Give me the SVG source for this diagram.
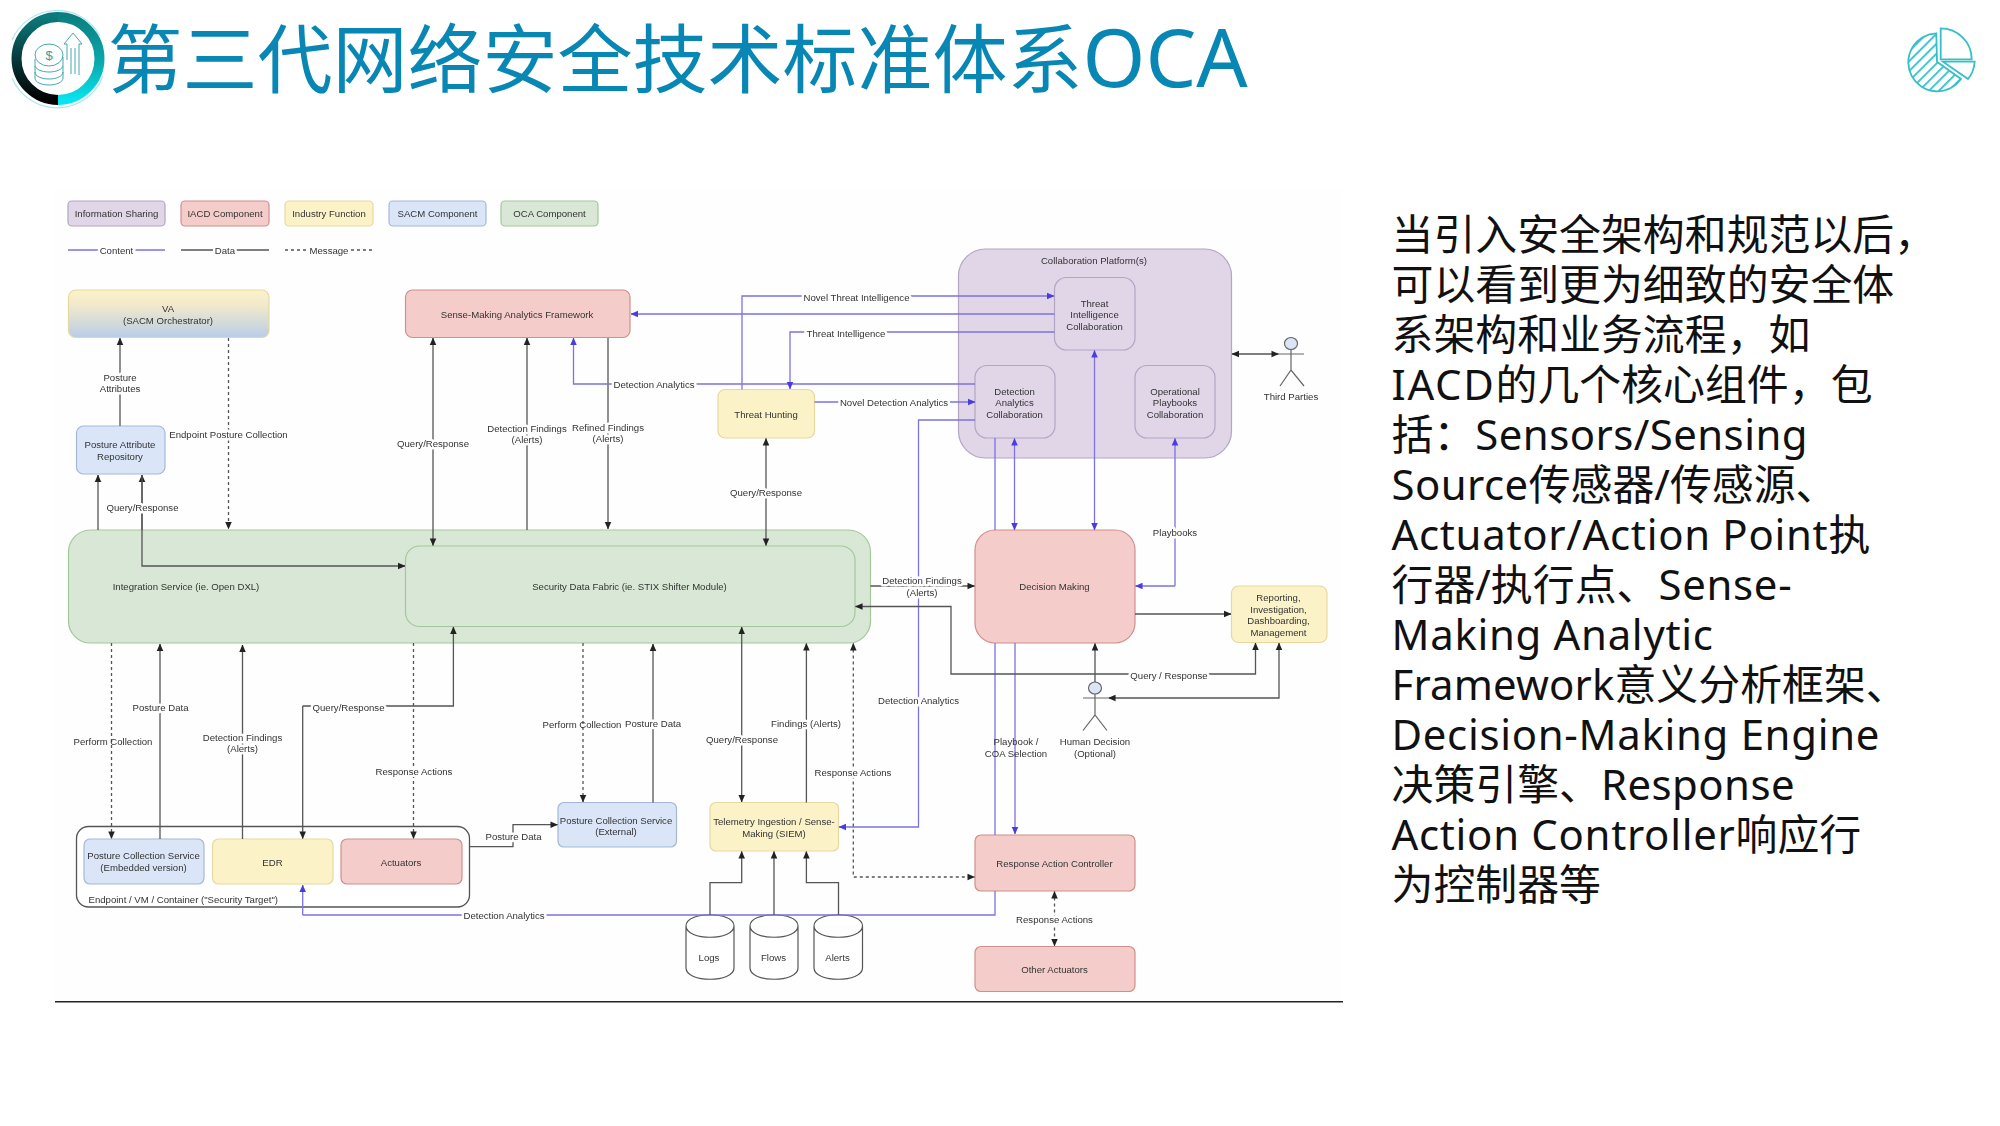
<svg xmlns="http://www.w3.org/2000/svg" width="2000" height="1126" viewBox="0 0 2000 1126">
<style>
text{font-family:"Liberation Sans","Noto Sans CJK SC",sans-serif;fill:#333;font-size:9.6px;text-anchor:middle;dominant-baseline:central}
.bg text,.lb{paint-order:stroke;stroke:#fefefe;stroke-width:5px;stroke-linejoin:round}
.title{font-family:"Noto Sans","Noto Sans CJK SC",sans-serif;font-size:75px;fill:#0887b5;text-anchor:start;dominant-baseline:auto}
.oca{font-size:80.500px}
.body{font-family:"Noto Sans","Noto Sans CJK SC",sans-serif;font-size:41.9px;fill:#111;text-anchor:start;dominant-baseline:auto}
.l7{letter-spacing:.7px}
.l5{letter-spacing:.45px}
.l2{letter-spacing:.15px}
.l17{letter-spacing:1.7px}
.p{fill:#e0d6e8;stroke:#b3a6c4;stroke-width:1.2}
.r{fill:#f4cdca;stroke:#cf8f8c;stroke-width:1.2}
.y{fill:#fcf2c8;stroke:#e6d9a0;stroke-width:1.2}
.b{fill:#dae6f8;stroke:#a5b8d8;stroke-width:1.2}
.g{fill:#d9e8d6;stroke:#a3c79a;stroke-width:1.2}
.c,.d,.m{fill:none;stroke-width:1.3}
.c{stroke:#7d72e2}
.d{stroke:#555}
.m{stroke:#555;stroke-dasharray:3 3}
.ae{marker-end:url(#ak)}
.as{marker-start:url(#ak)}
.be{marker-end:url(#ab)}
.bs{marker-start:url(#ab)}
.act{fill:none;stroke:#666;stroke-width:1.2}
.ic{fill:none;stroke:#2f9ea6;stroke-width:.9}
.pie{fill:none;stroke:#35bfc9;stroke-width:1.8}
</style>
<defs>
<marker id="ak" viewBox="0 0 8 8" refX="7.5" refY="4" markerWidth="7.5" markerHeight="7.5" markerUnits="userSpaceOnUse" orient="auto-start-reverse"><path d="M0 .5L8 4L0 7.5Z" fill="#222"/></marker>
<marker id="ab" viewBox="0 0 8 8" refX="7.5" refY="4" markerWidth="7.5" markerHeight="7.5" markerUnits="userSpaceOnUse" orient="auto-start-reverse"><path d="M0 .5L8 4L0 7.5Z" fill="#4a3ee0"/></marker>
<linearGradient id="va" x1="0" y1="0" x2="0" y2="1"><stop offset="0" stop-color="#fcf2c8"/><stop offset=".35" stop-color="#f0e8cc"/><stop offset="1" stop-color="#b9cde8"/></linearGradient>
<linearGradient id="rl" x1="0" y1="0" x2="0" y2="1"><stop offset="0" stop-color="#0b7a7c"/><stop offset=".5" stop-color="#063a3c"/><stop offset="1" stop-color="#000"/></linearGradient>
<linearGradient id="rr" x1="0" y1="0" x2="0" y2="1"><stop offset="0" stop-color="#0b7f80"/><stop offset=".55" stop-color="#0aa9ad"/><stop offset="1" stop-color="#08e4ee"/></linearGradient>
<pattern id="ht" width="7" height="7" patternUnits="userSpaceOnUse" patternTransform="rotate(-45)"><rect width="7" height="1.8" fill="#35bfc9"/></pattern>
<filter id="soft" filterUnits="userSpaceOnUse" x="0" y="150" width="1400" height="880"><feGaussianBlur stdDeviation=".35"/></filter>
</defs>
<rect width="2000" height="1126" fill="#fff"/>
<rect x="55" y="190" width="1288" height="811" fill="#fefefe"/>

<g id="logo" transform="translate(-1 0)">
<path d="M13 40A49 49 0 0 1 101 36M104 76A49 49 0 0 1 13 78" fill="none" stroke="#a8e8ec" stroke-width="1.2"/>
<path d="M59 100A41.500 41.500 0 0 1 59 17" fill="none" stroke="url(#rl)" stroke-width="10"/>
<path d="M59 17A41.500 41.500 0 0 1 59 100" fill="none" stroke="url(#rr)" stroke-width="10"/>
<ellipse class="ic" cx="50" cy="55" rx="14" ry="11"/>
<path class="ic" d="M36 59v6c0 4 6 7 14 7s14-3 14-7v-8M36 66v6c0 4 6 7 14 7s14-3 14-7v-6M36 72v6c0 4 6 7 14 7s14-3 14-7v-6"/>
<path class="ic" d="M68 60V44h-3L74 33l9 11h-3v31M72 48v26M76 48v26"/>
<text x="50" y="55" style="font-size:13px;fill:#2f9ea6">$</text>
</g>
<text id="title" class="title" x="107.500" y="87">第三代网络安全技术标准体系<tspan class="oca">OCA</tspan></text>
<g id="pie-icon" transform="translate(-1 0)">
<path class="pie" d="M1941.700 28.300A31 31 0 0 1 1972.700 59.300H1941.700Z"/>
<path class="pie" d="M1944 61.700H1975.700A31 31 0 0 1 1969 79Z"/>
<path d="M1937.300 33.300A29 29 0 1 0 1962 79L1938 61.700Z" fill="url(#ht)" stroke="#35bfc9" stroke-width="1.800"/>
</g>

<g id="diagram" filter="url(#soft)">
<g id="legend">
<rect class="p" x="68" y="201" width="97" height="25" rx="4"/><text x="116.500" y="213.500">Information Sharing</text>
<rect class="r" x="181" y="201" width="88" height="25" rx="4"/><text x="225" y="213.500">IACD Component</text>
<rect class="y" x="285" y="201" width="88" height="25" rx="4"/><text x="329" y="213.500">Industry Function</text>
<rect class="b" x="389" y="201" width="97" height="25" rx="4"/><text x="437.500" y="213.500">SACM Component</text>
<rect class="g" x="501" y="201" width="97" height="25" rx="4"/><text x="549.500" y="213.500">OCA Component</text>
<path class="c" d="M68 250H165"/><text class="lb" x="116.500" y="250">Content</text>
<path class="d" d="M181 250H269"/><text class="lb" x="225" y="250">Data</text>
<path class="m" d="M285 250H373"/><text class="lb" x="329" y="250">Message</text>
</g>

<g id="va-node"><rect x="68.500" y="290" width="200.500" height="47.500" rx="7" fill="url(#va)" stroke="#e6d9a0" stroke-width="1.200"/><text x="168" y="308.500">VA</text><text x="168" y="320">(SACM Orchestrator)</text></g>
<g id="sense-making"><rect class="r" x="405.500" y="290" width="224.500" height="47.500" rx="7"/><text x="517" y="314">Sense-Making Analytics Framework</text></g>
<g id="posture-repo"><rect class="b" x="76.500" y="426" width="88.500" height="48" rx="7"/><text x="120" y="444.500">Posture Attribute</text><text x="120" y="456">Repository</text></g>
<g id="collab-platform"><rect class="p" x="958.500" y="249" width="273" height="209" rx="27"/><text x="1094" y="260.500">Collaboration Platform(s)</text></g>
<g id="threat-intel"><rect class="p" x="1054.500" y="277.500" width="80.500" height="72.500" rx="12"/><text x="1094.500" y="303">Threat</text><text x="1094.500" y="314.500">Intelligence</text><text x="1094.500" y="326">Collaboration</text></g>
<g id="detection-collab"><rect class="p" x="975" y="365.500" width="80" height="72.500" rx="12"/><text x="1014.500" y="391">Detection</text><text x="1014.500" y="402.500">Analytics</text><text x="1014.500" y="414">Collaboration</text></g>
<g id="playbooks-collab"><rect class="p" x="1135" y="365.500" width="80" height="72.500" rx="12"/><text x="1175" y="391">Operational</text><text x="1175" y="402.500">Playbooks</text><text x="1175" y="414">Collaboration</text></g>
<g id="threat-hunting"><rect class="y" x="718" y="389.500" width="96.500" height="48.500" rx="7"/><text x="766" y="414">Threat Hunting</text></g>
<g id="integration-service"><rect class="g" x="68.500" y="530" width="802" height="113" rx="22"/><text x="186" y="586.500">Integration Service (ie. Open DXL)</text></g>
<g id="data-fabric"><rect class="g" x="405.500" y="546" width="449.500" height="80.500" rx="14"/><text x="629.500" y="586.500">Security Data Fabric (ie. STIX Shifter Module)</text></g>
<g id="decision-making"><rect class="r" x="975" y="530" width="160" height="113" rx="20"/><text x="1054.500" y="586.500">Decision Making</text></g>
<g id="reporting"><rect class="y" x="1231.500" y="586" width="95.500" height="56.500" rx="7"/><text x="1278.500" y="597.500">Reporting,</text><text x="1278.500" y="609">Investigation,</text><text x="1278.500" y="620.500">Dashboarding,</text><text x="1278.500" y="632">Management</text></g>
<g id="endpoint"><rect x="76.500" y="826.500" width="393" height="80.500" rx="12" fill="#fff" stroke="#555" stroke-width="1.300"/><text x="88.500" y="899.500" style="text-anchor:start">Endpoint / VM / Container ("Security Target")</text></g>
<g id="pcs-embedded"><rect class="b" x="84" y="839" width="120" height="45" rx="6"/><text x="143.500" y="855.500">Posture Collection Service</text><text x="143.500" y="867">(Embedded version)</text></g>
<g id="edr"><rect class="y" x="212.500" y="839" width="120.500" height="45" rx="6"/><text x="272.500" y="862">EDR</text></g>
<g id="actuators"><rect class="r" x="341" y="839" width="121" height="45" rx="6"/><text x="401" y="862">Actuators</text></g>
<g id="pcs-external"><rect class="b" x="558" y="802.500" width="118.500" height="44.500" rx="6"/><text x="616" y="820">Posture Collection Service</text><text x="616" y="831.500">(External)</text></g>
<g id="telemetry"><rect class="y" x="710" y="802.500" width="128.500" height="48.500" rx="6"/><text x="774" y="821.500">Telemetry Ingestion / Sense-</text><text x="774" y="833">Making (SIEM)</text></g>
<g id="response-controller"><rect class="r" x="975" y="835" width="160" height="56" rx="6"/><text x="1054.500" y="863.500">Response Action Controller</text></g>
<g id="other-actuators"><rect class="r" x="975" y="946.500" width="160" height="45" rx="6"/><text x="1054.500" y="969.500">Other Actuators</text></g>
<g id="logs"><path d="M686 926V968C686 983 734 983 734 968V926M686 926C686 911 734 911 734 926C734 941 686 941 686 926Z" fill="#fff" stroke="#555" stroke-width="1.200"/><text x="709" y="957">Logs</text></g>
<g id="flows"><path d="M750 926V968C750 983 798 983 798 968V926M750 926C750 911 798 911 798 926C798 941 750 941 750 926Z" fill="#fff" stroke="#555" stroke-width="1.200"/><text x="773.500" y="957">Flows</text></g>
<g id="alerts"><path d="M814 926V968C814 983 862.500 983 862.500 968V926M814 926C814 911 862.500 911 862.500 926C862.500 941 814 941 814 926Z" fill="#fff" stroke="#555" stroke-width="1.200"/><text x="837.500" y="957">Alerts</text></g>
<g id="third-parties"><ellipse cx="1291" cy="343.500" rx="6.500" ry="6" fill="#dae6f8" stroke="#666" stroke-width="1.200"/><path class="act" d="M1278.500 354H1304M1291 349.500V370M1280 386L1291 370L1304 386"/><text x="1291" y="396.500">Third Parties</text></g>
<g id="human-decision"><ellipse cx="1095" cy="688" rx="6.500" ry="6" fill="#dae6f8" stroke="#666" stroke-width="1.200"/><path class="act" d="M1083 698H1108M1095 694V715M1083 730.500L1095 715L1107 730.500"/><text x="1095" y="741.500">Human Decision</text><text x="1095" y="753">(Optional)</text></g>

<g id="connectors" fill="none">
<path class="d ae" d="M120 426V338"/>
<path class="m ae" d="M228.500 338V529"/>
<path class="d ae" d="M98 530V475"/>
<path class="d ae" d="M142 530V475"/>
<path class="d ae" d="M142 475V566H405"/>
<path class="d as ae" d="M433 338V545.500"/>
<path class="d ae" d="M527 530V338"/>
<path class="d ae" d="M608 338V529"/>
<path class="c be" d="M975 384H573.500V338"/>
<path class="c be" d="M1054.500 314H631"/>
<path class="c be" d="M742 389.500V296H1054"/>
<path class="c be" d="M1054.500 332H790V389"/>
<path class="c be" d="M814.500 402H975"/>
<path class="c be" d="M975 420H918.500V827H839"/>
<path class="d as ae" d="M766 438.500V545.500"/>
<path class="c" d="M995 438V530M995 643V835M995 891V915H302.700"/>
<path class="c be" d="M302.700 915V885"/>
<path class="c bs be" d="M1014.500 438.500V530"/>
<path class="c be" d="M1015 643V834"/>
<path class="c bs be" d="M1094.500 350.500V530"/>
<path class="c be" d="M1175 586H1135.500"/>
<path class="c be" d="M1175 586V438.500"/>
<path class="d ae" d="M1135 614H1231"/>
<path class="d ae" d="M870.500 586H974.500"/>
<path class="d as ae" d="M855.500 606.500H951V674H1255.500V643"/>
<path class="d as ae" d="M1279 643V698H1108.500"/>
<path class="d as" d="M1095 643.500V682"/>
<path class="d as ae" d="M1232 354H1278.500"/>
<path class="m ae" d="M111.500 643V838.500"/>
<path class="d ae" d="M160 839V644"/>
<path class="d ae" d="M242.500 839V645"/>
<path class="d ae" d="M302.700 706H453.400V627"/>
<path class="d ae" d="M302.700 706V838.500"/>
<path class="m ae" d="M413.500 643V838.500"/>
<path class="d ae" d="M469.500 846.700H513V824.700H557.500"/>
<path class="m ae" d="M583 643V802"/>
<path class="d ae" d="M653 802.500V644"/>
<path class="d as ae" d="M741.700 627V802"/>
<path class="d ae" d="M806.400 802.500V643.500"/>
<path class="m as ae" d="M853.300 643.500V877H974.500"/>
<path class="d ae" d="M710 915V882.700H741.700V851.500"/>
<path class="d ae" d="M774 915V851.500"/>
<path class="d ae" d="M838.500 915V882.700H806.400V851.500"/>
<path class="m as ae" d="M1054.500 891.500V946"/>
<g class="bg">
<text x="120" y="377">Posture</text><text x="120" y="388.500">Attributes</text>
<text x="228.500" y="434">Endpoint Posture Collection</text>
<text x="142.500" y="507">Query/Response</text>
<text x="433" y="443">Query/Response</text>
<text x="527" y="428">Detection Findings</text><text x="527" y="439.500">(Alerts)</text>
<text x="608" y="427">Refined Findings</text><text x="608" y="438.500">(Alerts)</text>
<text x="654" y="384">Detection Analytics</text>
<text x="856.500" y="297">Novel Threat Intelligence</text>
<text x="846" y="333">Threat Intelligence</text>
<text x="894" y="402">Novel Detection Analytics</text>
<text x="766" y="492">Query/Response</text>
<text x="918.500" y="700">Detection Analytics</text>
<text x="1175" y="532">Playbooks</text>
<text x="922" y="580.500">Detection Findings</text><text x="922" y="592">(Alerts)</text>
<text x="1169" y="675">Query / Response</text>
<text x="160.500" y="707">Posture Data</text>
<text x="242.500" y="737">Detection Findings</text><text x="242.500" y="748.500">(Alerts)</text>
<text x="348.500" y="707">Query/Response</text>
<text x="414" y="771">Response Actions</text>
<text x="513.500" y="836">Posture Data</text>
<text x="653" y="723">Posture Data</text>
<text x="742" y="739">Query/Response</text>
<text x="806" y="723">Findings (Alerts)</text>
<text x="853" y="772">Response Actions</text>
<text x="504" y="915">Detection Analytics</text>
<text x="1054.500" y="919">Response Actions</text>
</g>
<text x="113" y="741">Perform Collection</text>
<text x="582" y="724">Perform Collection</text>
<text x="1016" y="741.500">Playbook /</text><text x="1016" y="753">COA Selection</text>
</g>
</g>
<path id="baseline" d="M55 1001.700H1343" stroke="#222" stroke-width="1.500" fill="none"/>

<g id="description">
<text class="body" x="1391.500" y="250">当引入安全架构和规范以后，</text>
<text class="body" x="1391.500" y="300">可以看到更为细致的安全体</text>
<text class="body" x="1391.500" y="350">系架构和业务流程，如</text>
<text class="body" x="1391.500" y="400"><tspan class="l17">IACD</tspan>的几个核心组件，包</text>
<text class="body" x="1391.500" y="450">括：<tspan class="l5">Sensors/Sensing</tspan></text>
<text class="body" x="1391.500" y="500"><tspan class="l5">Source</tspan>传感器/传感源、</text>
<text class="body" x="1391.500" y="550"><tspan class="l7">Actuator/Action Point</tspan>执</text>
<text class="body" x="1391.500" y="600">行器/执行点、<tspan class="l7">Sense-</tspan></text>
<text class="body" x="1391.500" y="650"><tspan class="l7">Making Analytic</tspan></text>
<text class="body" x="1391.500" y="700"><tspan class="l2">Framework</tspan>意义分析框架、</text>
<text class="body" x="1391.500" y="750"><tspan class="l7">Decision-Making Engine</tspan></text>
<text class="body" x="1391.500" y="800">决策引擎、<tspan class="l5">Response</tspan></text>
<text class="body" x="1391.500" y="850"><tspan class="l7">Action Controller</tspan>响应行</text>
<text class="body" x="1391.500" y="900">为控制器等</text>
</g>
</svg>
